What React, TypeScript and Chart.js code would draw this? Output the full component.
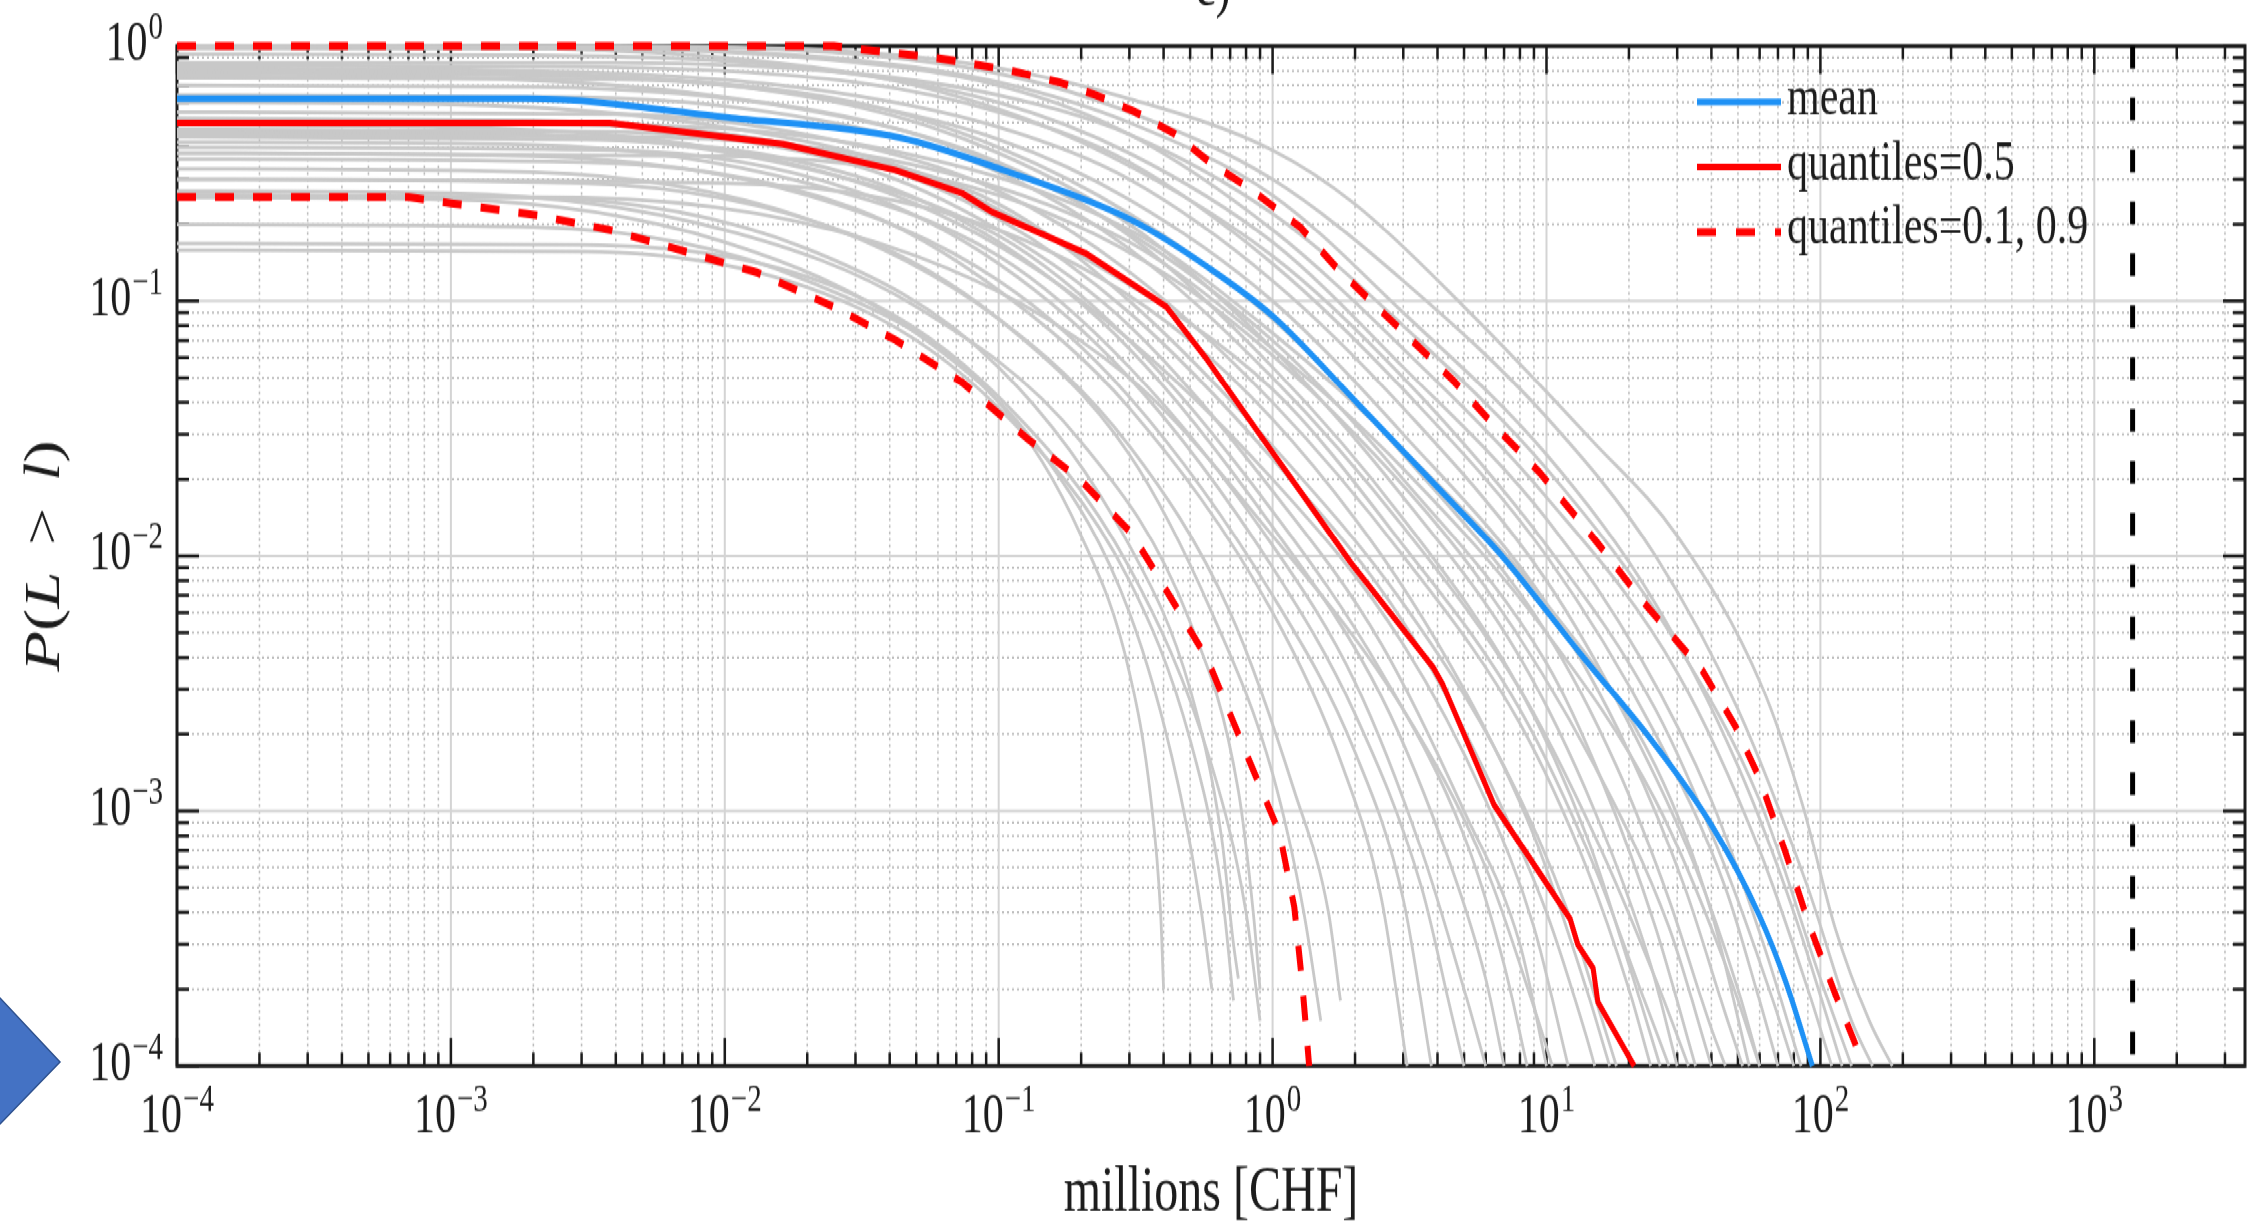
import React, { useEffect, useRef } from 'react';
import { Chart, registerables } from 'chart.js';

Chart.register(...registerables);

// ---------- page / stretch geometry ----------
const PAGE_W = 2258;
const PAGE_H = 1228;
const CANVAS_H = 923;
const STRETCH = PAGE_H / CANVAS_H;

// ---------- axes ----------
const X_MIN = 1e-4;
const X_MAX = 3550;
const Y_MIN = 1e-4;
const Y_MAX = 1;
const xDecades = [-4, -3, -2, -1, 0, 1, 2, 3];
const yDecades = [0, -1, -2, -3, -4];
const minorSteps = [2, 3, 4, 5, 6, 7, 8, 9];
const xAxisTitle = 'millions [CHF]';
const panelTitle = 'c)';
const legendLabels = ['mean', 'quantiles=0.5', 'quantiles=0.1, 0.9'];

// ---------- highlighted curves ----------
const meanX = [1e-4, 0.0019, 0.0106, 0.044, 0.104, 0.305, 0.578, 1.01, 2.1, 4.43, 6.87, 13.8, 24.3, 40.3, 59.8, 74.5, 93.5];
const meanY = [0.62, 0.62, 0.522, 0.436, 0.326, 0.208, 0.136, 0.0866, 0.0384, 0.0166, 0.01, 0.00394, 0.00188, 0.00087, 0.00039, 0.000216, 0.0001];

const medianX = [1e-4, 0.0038, 0.0163, 0.042, 0.0735, 0.095, 0.207, 0.361, 0.41, 0.578, 0.889, 1.26, 1.93, 3.85, 4.19, 6.43, 12.2, 13.0, 14.8, 15.4, 20.9];
const medianY = [0.499, 0.499, 0.413, 0.326, 0.265, 0.223, 0.154, 0.104, 0.0947, 0.0587, 0.0304, 0.018, 0.0094, 0.00367, 0.00312, 0.00106, 0.000377, 0.0003, 0.000242, 0.000178, 0.0001];

const q10X = [1e-4, 0.0007, 0.001, 0.00207, 0.0038, 0.0069, 0.0132, 0.0251, 0.042, 0.0735, 0.129, 0.199, 0.305, 0.377, 0.578, 0.817, 1.06, 1.2, 1.28, 1.36];
const q10Y = [0.256, 0.256, 0.242, 0.217, 0.19, 0.158, 0.129, 0.0947, 0.0703, 0.048, 0.0285, 0.0199, 0.0123, 0.0085, 0.00394, 0.0016, 0.00082, 0.00042, 0.000216, 0.0001];

const q90X = [1e-4, 0.025, 0.059, 0.109, 0.165, 0.225, 0.315, 0.434, 0.59, 0.85, 1.26, 1.7, 2.28, 3.22, 4.55, 6.17, 9.46, 15.2, 22.3, 37, 48.9, 59.8, 74.5, 91.3, 113, 134, 140];
const q90Y = [1, 1, 0.9, 0.805, 0.722, 0.643, 0.551, 0.456, 0.35, 0.27, 0.195, 0.136, 0.1, 0.0703, 0.049, 0.0341, 0.0212, 0.0114, 0.0067, 0.00357, 0.00215, 0.00135, 0.00069, 0.000354, 0.000193, 0.000122, 0.0001];

const capacityX = 1380;

// ---------- individual simulated curves (grey) ----------
const greyRuns: number[][][] = [
  [[1e-4, 1], [0.01, 0.99], [0.03, 0.95], [0.1, 0.82], [0.3, 0.62], [1, 0.39], [2, 0.24], [5, 0.095], [14.6, 0.0285], [30, 0.012], [61, 0.0031], [86, 0.00106], [113, 3.5e-4], [151, 1.5e-4], [183, 1e-4]],
  [[1e-4, 1], [0.004, 1], [0.03, 0.93], [0.1, 0.78], [0.3, 0.55], [1, 0.3], [3, 0.12], [10, 0.035], [25, 0.01], [50, 0.0025], [90, 5e-4], [130, 1.5e-4], [155, 1e-4]],
  [[1e-4, 0.98], [0.004, 0.975], [0.03, 0.88], [0.1, 0.72], [0.3, 0.5], [1, 0.26], [3, 0.09], [10, 0.025], [25, 0.0065], [50, 0.0015], [80, 4e-4], [120, 1e-4]],
  [[1e-4, 0.86], [0.004, 0.86], [0.03, 0.78], [0.1, 0.64], [0.3, 0.45], [1, 0.22], [3, 0.08], [10, 0.022], [30, 0.0045], [60, 0.0011], [100, 2.2e-4], [130, 1e-4]],
  [[1e-4, 1], [0.002, 0.99], [0.02, 0.9], [0.1, 0.7], [0.3, 0.45], [1, 0.19], [3, 0.065], [10, 0.017], [30, 0.0035], [60, 7e-4], [90, 2e-4], [110, 1e-4]],
  [[1e-4, 0.93], [0.002, 0.92], [0.02, 0.82], [0.1, 0.6], [0.3, 0.38], [1, 0.17], [3, 0.055], [10, 0.014], [22, 0.004], [40, 0.0011], [62, 3e-4], [85, 1e-4]],
  [[1e-4, 0.995], [0.001, 0.99], [0.01, 0.9], [0.05, 0.7], [0.2, 0.42], [1, 0.15], [3, 0.05], [10, 0.011], [25, 0.0025], [45, 6e-4], [65, 2e-4], [80, 1e-4]],
  [[1e-4, 0.84], [0.003, 0.83], [0.03, 0.72], [0.1, 0.55], [0.3, 0.35], [1, 0.14], [3, 0.045], [10, 0.01], [25, 0.002], [45, 5e-4], [60, 1.8e-4], [70, 1e-4]],
  [[1e-4, 0.82], [0.002, 0.8], [0.02, 0.68], [0.1, 0.48], [0.3, 0.3], [1, 0.12], [3, 0.038], [10, 0.008], [20, 0.0022], [35, 6e-4], [50, 2e-4], [60, 1e-4]],
  [[1e-4, 0.8], [0.002, 0.78], [0.02, 0.64], [0.1, 0.43], [0.3, 0.25], [1, 0.1], [3, 0.03], [10, 0.0065], [20, 0.0017], [32, 5e-4], [45, 1.6e-4], [52, 1e-4]],
  [[1e-4, 0.78], [0.003, 0.76], [0.03, 0.6], [0.1, 0.4], [0.3, 0.22], [1, 0.085], [3, 0.025], [10, 0.005], [18, 0.0015], [28, 4.5e-4], [40, 1.4e-4], [45, 1e-4]],
  [[1e-4, 0.76], [0.001, 0.75], [0.01, 0.63], [0.05, 0.45], [0.2, 0.24], [1, 0.07], [3, 0.02], [10, 0.0038], [16, 0.0013], [25, 3.5e-4], [35, 1e-4]],
  [[1e-4, 0.75], [0.004, 0.74], [0.03, 0.58], [0.1, 0.38], [0.3, 0.2], [1, 0.065], [3, 0.017], [8, 0.004], [15, 0.001], [24, 2.5e-4], [30, 1e-4]],
  [[1e-4, 0.7], [0.002, 0.69], [0.02, 0.56], [0.1, 0.35], [0.3, 0.18], [1, 0.055], [3, 0.014], [8, 0.003], [14, 8e-4], [20, 2.5e-4], [26, 1e-4]],
  [[1e-4, 0.64], [0.003, 0.63], [0.03, 0.48], [0.1, 0.32], [0.3, 0.16], [1, 0.05], [3, 0.013], [8, 0.003], [15, 8e-4], [25, 2.2e-4], [33, 1e-4]],
  [[1e-4, 0.6], [0.001, 0.59], [0.01, 0.48], [0.05, 0.32], [0.2, 0.15], [1, 0.045], [3, 0.011], [8, 0.0025], [15, 6e-4], [22, 2e-4], [28, 1e-4]],
  [[1e-4, 0.55], [0.004, 0.54], [0.03, 0.41], [0.1, 0.27], [0.3, 0.13], [1, 0.04], [3, 0.01], [8, 0.0022], [14, 6e-4], [20, 2e-4], [24, 1e-4]],
  [[1e-4, 0.45], [0.005, 0.44], [0.05, 0.34], [0.3, 0.17], [1, 0.065], [3, 0.022], [10, 0.005], [25, 0.0011], [45, 2.5e-4], [60, 1e-4]],
  [[1e-4, 0.5], [0.004, 0.49], [0.04, 0.39], [0.3, 0.19], [1, 0.075], [3, 0.026], [10, 0.0065], [25, 0.0015], [40, 4e-4], [55, 1e-4]],
  [[1e-4, 0.38], [0.01, 0.37], [0.1, 0.26], [0.5, 0.11], [2, 0.03], [6, 0.0075], [15, 0.0015], [28, 3.5e-4], [40, 1e-4]],
  [[1e-4, 0.52], [0.002, 0.51], [0.02, 0.4], [0.1, 0.24], [0.3, 0.1], [1, 0.027], [3, 0.0065], [7, 0.0015], [12, 4e-4], [16, 1.5e-4], [18, 1e-4]],
  [[1e-4, 0.5], [0.003, 0.49], [0.03, 0.36], [0.1, 0.21], [0.3, 0.09], [1, 0.024], [3, 0.0055], [6, 0.0014], [10, 4e-4], [14, 1.3e-4], [15, 1e-4]],
  [[1e-4, 0.49], [0.001, 0.48], [0.01, 0.39], [0.05, 0.24], [0.2, 0.1], [1, 0.02], [3, 0.0045], [6, 0.0011], [9, 3.5e-4], [12, 1e-4]],
  [[1e-4, 0.47], [0.004, 0.46], [0.03, 0.34], [0.1, 0.19], [0.3, 0.08], [1, 0.018], [2.5, 0.0045], [5, 0.001], [8, 3e-4], [10, 1e-4]],
  [[1e-4, 0.46], [0.002, 0.45], [0.02, 0.33], [0.1, 0.18], [0.3, 0.07], [1, 0.015], [2.5, 0.0035], [5, 8e-4], [7, 2.5e-4], [8.5, 1e-4]],
  [[1e-4, 0.3], [0.01, 0.29], [0.1, 0.19], [0.5, 0.07], [2, 0.014], [5, 0.003], [9, 8e-4], [14, 2e-4], [17, 1e-4]],
  [[1e-4, 0.44], [0.003, 0.43], [0.03, 0.31], [0.1, 0.17], [0.3, 0.065], [1, 0.013], [2.5, 0.0028], [4.5, 6e-4], [6, 2.2e-4], [7, 1e-4]],
  [[1e-4, 0.42], [0.002, 0.41], [0.02, 0.29], [0.1, 0.15], [0.3, 0.055], [1, 0.011], [2, 0.0032], [3.5, 7e-4], [5, 2e-4], [6, 1e-4]],
  [[1e-4, 0.26], [0.003, 0.255], [0.05, 0.15], [0.3, 0.05], [1, 0.012], [3, 0.0025], [6, 6e-4], [9, 1.7e-4], [10.5, 1e-4]],
  [[1e-4, 0.4], [0.004, 0.39], [0.03, 0.27], [0.1, 0.14], [0.3, 0.05], [1, 0.009], [2, 0.0024], [3.5, 5e-4], [4.5, 1.6e-4], [5, 1e-4]],
  [[1e-4, 0.38], [0.002, 0.37], [0.02, 0.26], [0.1, 0.12], [0.3, 0.042], [1, 0.007], [2, 0.0017], [3, 4.5e-4], [3.8, 1e-4]],
  [[1e-4, 0.36], [0.003, 0.35], [0.03, 0.23], [0.1, 0.11], [0.3, 0.038], [1, 0.006], [1.8, 0.0015], [2.5, 4.5e-4], [3.1, 1e-4]],
  [[1e-4, 0.33], [0.002, 0.32], [0.02, 0.21], [0.1, 0.085], [0.3, 0.027], [0.7, 0.006], [1.2, 0.0012], [1.6, 4e-4], [1.77, 1.8e-4]],
  [[1e-4, 0.3], [0.003, 0.29], [0.03, 0.18], [0.1, 0.085], [0.3, 0.025], [0.6, 0.006], [1, 0.0014], [1.3, 4e-4], [1.5, 1.5e-4]],
  [[1e-4, 0.27], [0.001, 0.265], [0.01, 0.19], [0.05, 0.095], [0.2, 0.028], [0.5, 0.0055], [0.75, 0.0012], [0.85, 4e-4], [0.9, 2e-4]],
  [[1e-4, 0.26], [0.002, 0.255], [0.02, 0.16], [0.1, 0.055], [0.3, 0.011], [0.5, 0.003], [0.65, 8e-4], [0.72, 3e-4], [0.75, 2.2e-4]],
  [[1e-4, 0.255], [0.001, 0.25], [0.01, 0.17], [0.05, 0.075], [0.15, 0.024], [0.3, 0.006], [0.45, 0.0013], [0.55, 4e-4], [0.6, 2e-4]],
  [[1e-4, 0.2], [0.002, 0.195], [0.02, 0.12], [0.1, 0.04], [0.2, 0.012], [0.3, 0.0035], [0.36, 0.0011], [0.39, 4e-4], [0.4, 2e-4]],
  [[1e-4, 0.168], [0.003, 0.166], [0.03, 0.105], [0.1, 0.042], [0.3, 0.009], [0.6, 0.0015], [0.8, 4e-4], [0.9, 1.5e-4]],
  [[1e-4, 0.158], [0.003, 0.156], [0.03, 0.095], [0.1, 0.038], [0.3, 0.008], [0.5, 0.0019], [0.65, 5e-4], [0.72, 1.8e-4]],
];

// ---------- styles ----------
const GREY = 'rgb(200,200,200)';
const BLUE = 'rgb(30,145,245)';
const RED = 'rgb(255,0,0)';
const INK = '#1c1c1c';
const FONT = "'Liberation Serif', 'Times New Roman', serif";

const PLOT_LEFT = 177;
const PLOT_RIGHT = 2245;
const PLOT_TOP = 46 / STRETCH;
const PLOT_BOTTOM = 1066 / STRETCH;

function supText(exp: number) {
  return exp < 0 ? '\u2212' + Math.abs(exp) : String(exp);
}

function drawPower(ctx: CanvasRenderingContext2D, exp: number, x: number, baseline: number, align: 'center' | 'right') {
  const base = '10';
  const sup = supText(exp);
  ctx.font = `42px ${FONT}`;
  const bw = ctx.measureText(base).width;
  ctx.font = `29px ${FONT}`;
  const sw = ctx.measureText(sup).width;
  const total = bw + 1 + sw;
  const x0 = align === 'center' ? x - total / 2 : x - total;
  ctx.textAlign = 'left';
  ctx.textBaseline = 'alphabetic';
  ctx.fillStyle = INK;
  ctx.font = `42px ${FONT}`;
  ctx.fillText(base, x0, baseline);
  ctx.font = `29px ${FONT}`;
  ctx.fillText(sup, x0 + bw + 1, baseline - 16);
}

const matlabAxes = {
  id: 'matlabAxes',
  beforeDatasetsDraw(chart: any) {
    const { ctx, chartArea: a, scales } = chart;
    const xs = scales.x;
    const ys = scales.y;
    const xMinor: number[] = [];
    const yMinor: number[] = [];
    xDecades.forEach((e) => minorSteps.forEach((k) => { const v = k * Math.pow(10, e); if (v < X_MAX) xMinor.push(v); }));
    yDecades.forEach((e) => { if (e < 0) minorSteps.forEach((k) => yMinor.push(k * Math.pow(10, e))); });
    ctx.save();
    // minor grid (dotted)
    ctx.lineWidth = 1.5;
    ctx.strokeStyle = 'rgba(120,120,120,0.55)';
    ctx.setLineDash([2, 3]);
    ctx.beginPath();
    xMinor.forEach((v) => { const p = xs.getPixelForValue(v); ctx.moveTo(p, a.top); ctx.lineTo(p, a.bottom); });
    yMinor.forEach((v) => { const p = ys.getPixelForValue(v); ctx.moveTo(a.left, p); ctx.lineTo(a.right, p); });
    ctx.stroke();
    // major grid (solid, light)
    ctx.setLineDash([]);
    ctx.lineWidth = 2;
    ctx.strokeStyle = '#d4d4d4';
    ctx.beginPath();
    xDecades.forEach((e) => { const p = xs.getPixelForValue(Math.pow(10, e)); if (p > a.left + 2 && p < a.right - 2) { ctx.moveTo(p, a.top); ctx.lineTo(p, a.bottom); } });
    yDecades.forEach((e) => { const p = ys.getPixelForValue(Math.pow(10, e)); if (p > a.top + 2 && p < a.bottom - 2) { ctx.moveTo(a.left, p); ctx.lineTo(a.right, p); } });
    ctx.stroke();
    // box
    ctx.strokeStyle = INK;
    ctx.lineWidth = 3;
    ctx.strokeRect(a.left, a.top, a.right - a.left, a.bottom - a.top);
    // ticks (inward, all four sides)
    ctx.lineWidth = 2.5;
    ctx.beginPath();
    const xTick = (v: number, len: number) => {
      const p = xs.getPixelForValue(v);
      ctx.moveTo(p, a.bottom); ctx.lineTo(p, a.bottom - len);
      ctx.moveTo(p, a.top); ctx.lineTo(p, a.top + len);
    };
    const yTick = (v: number, len: number) => {
      const p = ys.getPixelForValue(v);
      ctx.moveTo(a.left, p); ctx.lineTo(a.left + len, p);
      ctx.moveTo(a.right, p); ctx.lineTo(a.right - len, p);
    };
    xDecades.forEach((e) => xTick(Math.pow(10, e), 21));
    xMinor.forEach((v) => xTick(v, 10));
    yDecades.forEach((e) => yTick(Math.pow(10, e), 22));
    yMinor.forEach((v) => yTick(v, 12));
    ctx.stroke();
    ctx.restore();
  },
  afterDatasetsDraw(chart: any) {
    const { ctx, chartArea: a, scales } = chart;
    const xs = scales.x;
    const ys = scales.y;
    ctx.save();
    // tick labels
    xDecades.forEach((e) => drawPower(ctx, e, xs.getPixelForValue(Math.pow(10, e)), a.bottom + 49.6, 'center'));
    yDecades.forEach((e) => drawPower(ctx, e, 163, ys.getPixelForValue(Math.pow(10, e)) + 10.5, 'right'));
    // x axis title
    ctx.fillStyle = INK;
    ctx.font = `48px ${FONT}`;
    ctx.textAlign = 'center';
    ctx.textBaseline = 'alphabetic';
    ctx.fillText(xAxisTitle, (a.left + a.right) / 2, 910);
    // panel title (mostly cropped at the top)
    ctx.font = `46px ${FONT}`;
    ctx.fillText(panelTitle, 1213, 4);
    // y axis title P(L > l)
    ctx.save();
    ctx.translate(59, (a.top + a.bottom) / 2);
    ctx.rotate(-Math.PI / 2);
    const pieces: [string, boolean, number][] = [['P', true, 0], ['(', false, 0], ['L', true, 20], ['>', false, 20], ['l', true, 0], [')', false, 0]];
    let total = 0;
    pieces.forEach(([t, it, gap]) => { ctx.font = `${it ? 'italic ' : ''}50px ${FONT}`; total += ctx.measureText(t).width + gap; });
    let cx = -total / 2;
    ctx.textAlign = 'left';
    pieces.forEach(([t, it, gap]) => {
      ctx.font = `${it ? 'italic ' : ''}50px ${FONT}`;
      ctx.fillText(t, cx, 0);
      cx += ctx.measureText(t).width + gap;
    });
    ctx.restore();
    // legend (no box)
    const legendRows = [
      { label: legendLabels[0], color: BLUE, width: 5, dash: [] as number[] },
      { label: legendLabels[1], color: RED, width: 5, dash: [] as number[] },
      { label: legendLabels[2], color: RED, width: 6, dash: [19, 20] },
    ];
    const rowY = [102 / STRETCH, 167 / STRETCH, 232 / STRETCH];
    legendRows.forEach((r, i) => {
      ctx.beginPath();
      ctx.strokeStyle = r.color;
      ctx.lineWidth = r.width;
      ctx.lineCap = 'butt';
      ctx.setLineDash(r.dash);
      ctx.moveTo(1697, rowY[i]);
      ctx.lineTo(1781, rowY[i]);
      ctx.stroke();
      ctx.setLineDash([]);
      ctx.fillStyle = INK;
      ctx.font = `42px ${FONT}`;
      ctx.textAlign = 'left';
      ctx.fillText(r.label, 1787, rowY[i] + 9);
    });
    ctx.restore();
  },
};

function pts(xs: number[], ys: number[]) {
  return xs.map((x, i) => ({ x, y: ys[i] }));
}

export default function App() {
  const canvasRef = useRef<HTMLCanvasElement | null>(null);

  useEffect(() => {
    document.documentElement.style.overflow = 'hidden';
    document.body.style.overflow = 'hidden';
    const canvas = canvasRef.current;
    if (!canvas) return;
    const datasets: any[] = [
      ...greyRuns.map((run, i) => ({
        label: 'sim ' + (i + 1),
        data: run.map(([x, y]) => ({ x, y })),
        borderColor: GREY,
        borderWidth: 2.8,
        pointRadius: 0,
        cubicInterpolationMode: 'monotone',
        fill: false,
        order: 10,
        clip: 8,
      })),
      {
        label: 'limit',
        data: [{ x: capacityX, y: Y_MAX }, { x: capacityX, y: Y_MIN }],
        borderColor: '#000',
        borderWidth: 5,
        borderDash: [17, 22],
        borderCapStyle: 'butt',
        pointRadius: 0,
        fill: false,
        order: 4,
        clip: 8,
      },
      {
        label: legendLabels[0],
        data: pts(meanX, meanY),
        borderColor: BLUE,
        borderWidth: 5,
        pointRadius: 0,
        cubicInterpolationMode: 'monotone',
        fill: false,
        order: 2,
        clip: 8,
      },
      {
        label: legendLabels[1],
        data: pts(medianX, medianY),
        borderColor: RED,
        borderWidth: 5,
        pointRadius: 0,
        tension: 0,
        fill: false,
        order: 1,
        clip: 8,
      },
      {
        label: 'quantile 0.1',
        data: pts(q10X, q10Y),
        borderColor: RED,
        borderWidth: 6,
        borderDash: [19, 19],
        borderCapStyle: 'butt',
        pointRadius: 0,
        tension: 0,
        fill: false,
        order: 0,
        clip: 8,
      },
      {
        label: 'quantile 0.9',
        data: pts(q90X, q90Y),
        borderColor: RED,
        borderWidth: 6,
        borderDash: [19, 19],
        borderCapStyle: 'butt',
        pointRadius: 0,
        tension: 0,
        fill: false,
        order: 0,
        clip: 8,
      },
    ];
    const chart = new Chart(canvas, {
      type: 'line',
      data: { datasets },
      options: {
        animation: false,
        responsive: false,
        maintainAspectRatio: false,
        devicePixelRatio: 1,
        layout: {
          padding: {
            left: PLOT_LEFT,
            right: PAGE_W - PLOT_RIGHT,
            top: PLOT_TOP,
            bottom: CANVAS_H - PLOT_BOTTOM,
          },
        },
        scales: {
          x: { type: 'logarithmic', min: X_MIN, max: X_MAX, display: false },
          y: { type: 'logarithmic', min: Y_MIN, max: Y_MAX, display: false },
        },
        plugins: {
          legend: { display: false },
          tooltip: { enabled: false },
          title: { display: false },
        },
        elements: { point: { radius: 0 }, line: { borderJoinStyle: 'round' } },
      },
      plugins: [matlabAxes],
    } as any);
    return () => chart.destroy();
  }, []);

  return (
    <>
      <div
        style={{
          position: 'absolute',
          left: 0,
          top: 0,
          width: PAGE_W,
          height: CANVAS_H,
          transform: `scaleY(${STRETCH})`,
          transformOrigin: '0 0',
          background: '#fff',
        }}
      >
        <canvas ref={canvasRef} width={PAGE_W} height={CANVAS_H} style={{ display: 'block', width: PAGE_W, height: CANVAS_H }} />
      </div>
      <svg style={{ position: 'absolute', left: 0, top: 990 }} width={70} height={140}>
        <polygon points="-4,8 0,8 60,72 0,134 -4,134" fill="#4472C4" stroke="#2F528F" strokeWidth={1.5} />
      </svg>
    </>
  );
}
